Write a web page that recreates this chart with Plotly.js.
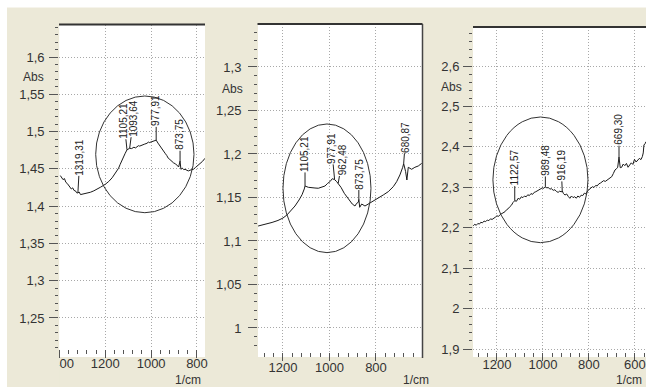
<!DOCTYPE html>
<html><head><meta charset="utf-8">
<script src="https://cdn.plot.ly/plotly-3.0.1.min.js"></script>
<style>html,body{margin:0;padding:0;background:#ECE9D8;overflow:hidden}#chart{width:646px;height:387px}</style>
</head><body><div id="chart"></div>
<script>
// ---------- DATA ----------
// Panel 1 spectrum
const s1Wave = [1396,1390,1384,1378,1372,1366,1360,1354,1348,1342,1336,1330,1325,1319.31,1314,1308,1300,1290,1280,1265,1250,1235,1220,1200,1185,1170,1160,1150,1142,1135,1127,1120,1113,1105.21,1099,1093.64,1085,1075,1068,1062,1055,1050,1040,1034,1030,1018,1012,1008,997,992,988,982,977.91,970,962,953,946,939,932,925,918,910,902,893,886,880,873.75,870,864,858,852,845,838,830,823,815,806,797,787,776,765];
const s1Abs  = [1.441,1.438,1.4355,1.437,1.432,1.4305,1.428,1.4265,1.423,1.4245,1.421,1.4205,1.418,1.4177,1.419,1.4155,1.416,1.4168,1.4175,1.4186,1.4205,1.4228,1.4255,1.4293,1.433,1.438,1.4425,1.447,1.4508,1.456,1.462,1.467,1.4709,1.4755,1.4765,1.4776,1.4772,1.4790,1.4781,1.4798,1.4811,1.4805,1.482,1.4834,1.483,1.4843,1.4859,1.4852,1.4865,1.4877,1.4872,1.4881,1.4885,1.4845,1.4805,1.4776,1.474,1.4709,1.468,1.4642,1.4625,1.4597,1.458,1.4566,1.455,1.4525,1.4605,1.4494,1.451,1.449,1.4494,1.4478,1.4472,1.4482,1.4485,1.4495,1.452,1.4545,1.4566,1.46,1.4642];
// Panel 2 spectrum
const s2Wave = [1307,1277,1247,1221.5,1200,1183,1165.6,1148.4,1131,1118,1108.4,1105.21,1091,1076.6,1062.4,1048,1033.5,1019.4,1007.7,997.8,988,977.91,969,962.48,950.5,936.3,919,902,890.3,883,876,873.75,870,861.5,847.3,833,811.6,790,768.6,747,725.6,711,697,685,680.87,672.5,667,661,646.6,632.6,618,603.4];
const s2Abs  = [1.1172,1.119,1.1213,1.1236,1.1264,1.1299,1.1345,1.1402,1.1471,1.1532,1.1598,1.1632,1.1617,1.1617,1.1609,1.1606,1.1617,1.1632,1.1663,1.1682,1.1716,1.1705,1.1682,1.1663,1.1617,1.1548,1.1479,1.1425,1.1402,1.1433,1.1445,1.1479,1.1387,1.1425,1.1402,1.1425,1.1452,1.149,1.1529,1.1567,1.1624,1.1682,1.1759,1.1847,1.189,1.1797,1.1701,1.1847,1.1824,1.1847,1.1862,1.1892];
// Panel 3 spectrum
const s3Wave = [1303,1296,1290,1283,1276,1270,1263,1256,1249,1242,1235,1228,1221,1214,1207,1200,1193,1186,1179,1172,1165,1158,1151,1144,1137,1130,1122.57,1115,1108,1101,1094,1087,1080,1073,1066,1059,1052,1045,1038,1031,1024,1017,1010,1003,996,989.48,983,977,970,963,955,948,941,934,927,920,916.19,911,904,897,890,883,876,869,862,855,848,841,834,827,820,813,806,799,792,785,778,771,764,757,750,743,736,729,722,715,708,701,694,687,680,675,669.3,664,658,651,644,637,630,623,616,609,602,595,588,581,574,568,564,561,556,552];
const s3Abs  = [2.205,2.2085,2.206,2.2105,2.209,2.2135,2.212,2.2165,2.215,2.219,2.2175,2.222,2.2205,2.2245,2.226,2.2295,2.228,2.2325,2.2345,2.2375,2.2396,2.2445,2.247,2.252,2.2555,2.2625,2.2668,2.2655,2.2727,2.2705,2.2765,2.2745,2.2785,2.2765,2.2815,2.2795,2.2845,2.2825,2.2875,2.289,2.2915,2.2935,2.2965,2.2985,2.2975,2.3014,2.2985,2.2995,2.2955,2.2965,2.2925,2.294,2.2895,2.2875,2.2905,2.2885,2.2916,2.2845,2.2809,2.2835,2.2775,2.2727,2.2785,2.2745,2.2767,2.273,2.2785,2.2752,2.2805,2.2795,2.2855,2.2835,2.291,2.2945,2.2975,2.3015,2.2995,2.3045,2.3035,2.3085,2.3105,2.3125,2.3165,2.3145,2.318,2.3215,2.3235,2.3262,2.334,2.3427,2.346,2.3495,2.375,2.3485,2.3494,2.3575,2.3535,2.359,2.3495,2.3555,2.3605,2.3565,2.3691,2.3625,2.3675,2.3715,2.3685,2.3757,2.385,2.4046,2.408,2.4128];

// Peak labels
const p1Wave = [1319.31,1105.21,1093.64,977.91,873.75];
const p1Abs  = [1.4177,1.4755,1.4776,1.4885,1.4605];
const p1Text = ['1319,31','1105,21','1093,64','977,91','873,75'];
const p2Wave = [1105.21,977.91,962.48,873.75,680.87];
const p2Abs  = [1.1632,1.1705,1.1663,1.1479,1.189];
const p2Text = ['1105,21','977,91','962,48','873,75','680,87'];
const p3Wave = [1122.57,989.48,916.19,669.30];
const p3Abs  = [2.2668,2.3014,2.2916,2.375];
const p3Text = ['1122,57','989,48','916,19','669,30'];

// Highlighted regions (ellipses): [wave1, wave2, abs1, abs2]
const e1 = [1241.7, 813, 1.3912, 1.5477];
const e2 = [1200, 821.5, 1.0866, 1.2345];
const e3 = [1217.4, 804.3, 2.163, 2.4739];

// Tick labels
const x1Ticks = [1400,1200,1000,800];
const x1Text  = ['1400','1200','1000','800'];
const x2Ticks = [1200,1000,800];
const x2Text  = ['1200','1000','800'];
const x3Ticks = [1200,1000,800,600];
const x3Text  = ['1200','1000','800','600'];
const y1Ticks = [1.25,1.3,1.35,1.4,1.45,1.5,1.55,1.6];
const y1Text  = ['1,25','1,3','1,35','1,4','1,45','1,5','1,55','1,6'];
const y2Ticks = [1,1.05,1.1,1.15,1.2,1.25,1.3];
const y2Text  = ['1','1,05','1,1','1,15','1,2','1,25','1,3'];
const y3Ticks = [1.9,2,2.1,2.2,2.3,2.4,2.5,2.6];
const y3Text  = ['1,9','2','2,1','2,2','2,3','2,4','2,5','2,6'];
const yLabel = 'Abs';
const xLabel = '1/cm';

// ---------- STYLE / LAYOUT ----------
const W = 646, H = 387;
const fx = p => p / W, fy = p => 1 - p / H;
const FONT = 'Liberation Sans, Arial, Helvetica, sans-serif';
const INK = '#333333';
const BEIGE = '#ECE9D8';

function xax(l, r, range, vals, text, anchor, standoff) {
  return {domain:[fx(l), fx(r)], range:range, anchor:anchor, tickmode:'array', tickvals:vals, ticktext:text,
    ticks:'outside', ticklen:8, tickwidth:1, tickcolor:'#555',
    minor:{dtick:40, tick0:0, ticks:'outside', ticklen:4, tickwidth:1, tickcolor:'#555', showgrid:false},
    showgrid:true, gridcolor:'#a8a8a8', griddash:'1px,2px', gridwidth:1, zeroline:false, showline:false,
    tickfont:{family:FONT, size:13, color:INK}, ticklabelstandoff:standoff, fixedrange:true};
}
function yax(t, b, range, vals, text, mdt, anchor, standoff) {
  return {domain:[fy(b), fy(t)], range:range, anchor:anchor, tickmode:'array', tickvals:vals, ticktext:text,
    ticks:'outside', ticklen:9, tickwidth:1, tickcolor:'#555',
    minor:{dtick:mdt, tick0:0, ticks:'outside', ticklen:3, tickwidth:1, tickcolor:'#555', showgrid:false},
    showgrid:true, gridcolor:'#a8a8a8', griddash:'1px,2px', gridwidth:1, zeroline:false, showline:false,
    tickfont:{family:FONT, size:13, color:INK}, ticklabelstandoff:standoff, fixedrange:true};
}

const line = {color:'#1a1a1a', width:1};
const traces = [
  {x:s1Wave, y:s1Abs, xaxis:'x', yaxis:'y', type:'scatter', mode:'lines', line:line, hoverinfo:'skip'},
  {x:s2Wave, y:s2Abs, xaxis:'x2', yaxis:'y2', type:'scatter', mode:'lines', line:line, hoverinfo:'skip'},
  {x:s3Wave, y:s3Abs, xaxis:'x3', yaxis:'y3', type:'scatter', mode:'lines', line:line, hoverinfo:'skip'}
];

const labelFont = 10;
function peakAnns(xr, yr, waves, abs, texts, dx, lead) {
  return waves.map((w, i) => {
    const s = texts[i];
    const tw = labelFont * (0.556 * (s.length - 1) + 0.278);
    return {xref:xr, yref:yr, x:w, y:abs[i], text:s, textangle:-90, showarrow:true, arrowhead:0,
      arrowwidth:1, arrowcolor:'#222', ax:dx[i], ay:-(lead[i] + tw / 2 + 1), axref:'pixel', ayref:'pixel',
      font:{family:FONT, size:labelFont, color:'#222'}, borderpad:0, standoff:0};
  });
}
const annotations = [].concat(
  peakAnns('x','y', p1Wave, p1Abs, p1Text, [2,-3,4,0,0], [17,10,11,13,10]),
  peakAnns('x2','y2', p2Wave, p2Abs, p2Text, [0,-3,4,0,2], [13,15,7,9,10]),
  peakAnns('x3','y3', p3Wave, p3Abs, p3Text, [0,0,-1,0], [14,10,9,11])
);
function paperText(t, px, py, size) {
  return {xref:'paper', yref:'paper', x:fx(px), y:fy(py), text:t, showarrow:false, xanchor:'center', yanchor:'middle',
    font:{family:FONT, size:size, color:INK}, borderpad:0};
}
annotations.push(paperText(yLabel, 33, 77, 12), paperText(yLabel, 232, 89, 12), paperText(yLabel, 451, 87, 12));
annotations.push(paperText(xLabel, 188, 380, 12), paperText(xLabel, 416, 380, 12), paperText(xLabel, 629, 380, 12));

function ell(xr, yr, e) {
  return {type:'circle', xref:xr, yref:yr, x0:e[0], x1:e[1], y0:e[2], y1:e[3], line:{color:'#333', width:1}, layer:'above'};
}
function prect(x0, x1, y0, y1, color, layer) {
  return {type:'rect', xref:'paper', yref:'paper', x0:fx(x0), x1:fx(x1), y0:fy(y1), y1:fy(y0), fillcolor:color, line:{width:0}, layer:layer};
}
function pline(x0, y0, x1, y1, w, c) {
  return {type:'line', xref:'paper', yref:'paper', x0:fx(x0), y0:fy(y0), x1:fx(x1), y1:fy(y1), line:{color:c, width:w}, layer:'above'};
}
const shapes = [
  prect(59.4, 205, 348, 357, '#ffffff', 'below'),
  prect(258, 422, 351, 357, '#ffffff', 'below'),
  prect(473, 646, 351, 357, '#ffffff', 'below'),
  ell('x','y', e1), ell('x2','y2', e2), ell('x3','y3', e3),
  prect(0, 59.4, 358, 387, BEIGE, 'above'),
  prect(0, 646, 0, 7.5, '#ffffff', 'above'),
  prect(0, 7, 0, 387, '#ffffff', 'above'),
  pline(59, 24.5, 205, 24.5, 2, '#333'),
  pline(257.5, 24, 422.5, 24, 2, '#333'),
  pline(422.5, 24, 422.5, 358, 1.5, '#444'),
  pline(473, 27, 646, 27, 2, '#333')
];

const layout = {
  width:W, height:H, margin:{l:0, r:0, t:0, b:0}, paper_bgcolor:BEIGE, plot_bgcolor:'#ffffff',
  showlegend:false, font:{family:FONT, color:INK},
  xaxis: xax(59.17, 205, [1401, 765], x1Ticks, x1Text, 'y', -6),
  yaxis: yax(24.5, 349.3, [1.208, 1.6436], y1Ticks, y1Text, 0.01, 'x', 2),
  xaxis2: xax(258, 422, [1307.5, 602], x2Ticks, x2Text, 'y2', -5),
  yaxis2: yax(24, 352, [0.9724, 1.3494], y2Ticks, y2Text, 0.01, 'x2', 4),
  xaxis3: xax(473, 646, [1304, 552], x3Ticks, x3Text, 'y3', -8),
  yaxis3: yax(27, 352, [1.8926, 2.6965], y3Ticks, y3Text, 0.02, 'x3', 1),
  annotations:annotations, shapes:shapes
};
Plotly.newPlot('chart', traces, layout, {staticPlot:true, displayModeBar:false});
</script></body></html>
